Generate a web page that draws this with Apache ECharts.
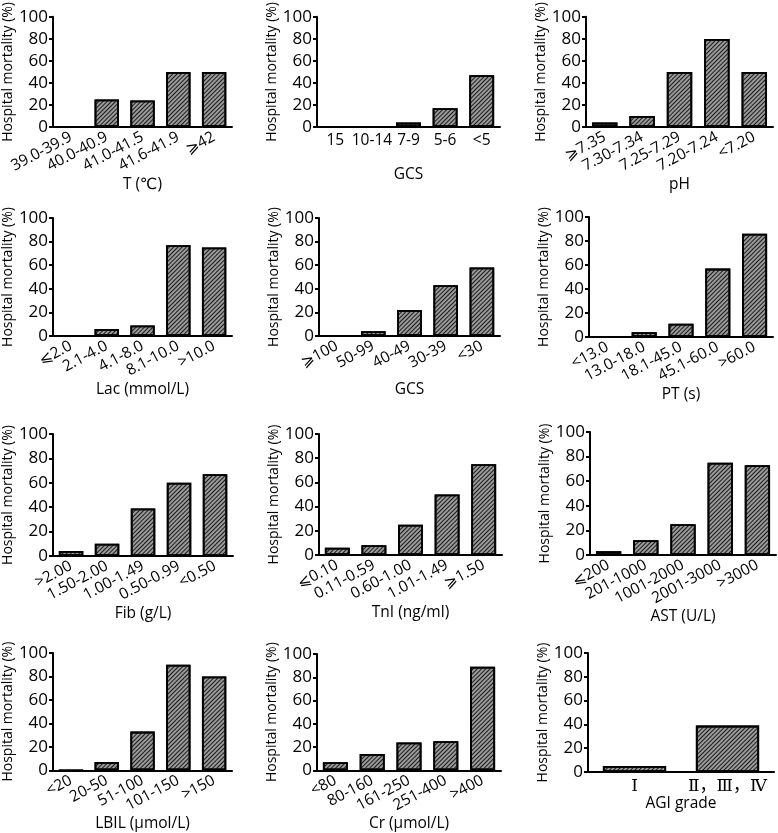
<!DOCTYPE html>
<html><head><meta charset="utf-8">
<script src="https://cdn.jsdelivr.net/npm/echarts@6/dist/echarts.min.js"></script>
<style>html,body{margin:0;padding:0;background:#fff}#c{width:778px;height:833px}</style>
</head><body><div id="c"></div><script>
// ---- data ----
const yTicks = [0, 20, 40, 60, 80, 100];
const yTitle = 'Hospital mortality (%)';

const tCats = ['39.0-39.9', '40.0-40.9', '41.0-41.5', '41.6-41.9', '⩾42'];
const tVals = [0, 25, 24, 50, 50];
const gcsCats = ['15', '10-14', '7-9', '5-6', '<5'];
const gcsVals = [0, 0, 4, 17, 47];
const phCats = ['⩾7.35', '7.30-7.34', '7.25-7.29', '7.20-7.24', '<7.20'];
const phVals = [4, 10, 50, 80, 50];
const lacCats = ['⩽2.0', '2.1-4.0', '4.1-8.0', '8.1-10.0', '>10.0'];
const lacVals = [0, 6, 9, 77, 75];
const gcs2Cats = ['⩾100', '50-99', '40-49', '30-39', '<30'];
const gcs2Vals = [0, 4, 22, 43, 58];
const ptCats = ['<13.0', '13.0-18.0', '18.1-45.0', '45.1-60.0', '>60.0'];
const ptVals = [0, 4, 11, 57, 86];
const fibCats = ['>2.00', '1.50-2.00', '1.00-1.49', '0.50-0.99', '<0.50'];
const fibVals = [4, 10, 39, 60, 67];
const tniCats = ['⩽0.10', '0.11-0.59', '0.60-1.00', '1.01-1.49', '⩾1.50'];
const tniVals = [6, 8, 25, 50, 75];
const astCats = ['⩽200', '201-1000', '1001-2000', '2001-3000', '>3000'];
const astVals = [3, 12, 25, 75, 73];
const lbilCats = ['<20', '20-50', '51-100', '101-150', '>150'];
const lbilVals = [0, 7, 33, 90, 80];
const crCats = ['<80', '80-160', '161-250', '251-400', '>400'];
const crVals = [7, 14, 24, 25, 89];
const agiCats = ['Ⅰ', 'Ⅱ，Ⅲ，Ⅳ'];
const agiVals = [5, 39];

const panels = [
  { title: 'T (℃)', cats: tCats, vals: tVals },
  { title: 'GCS', cats: gcsCats, vals: gcsVals },
  { title: 'pH', cats: phCats, vals: phVals },
  { title: 'Lac (mmol/L)', cats: lacCats, vals: lacVals },
  { title: 'GCS', cats: gcs2Cats, vals: gcs2Vals },
  { title: 'PT (s)', cats: ptCats, vals: ptVals },
  { title: 'Fib (g/L)', cats: fibCats, vals: fibVals },
  { title: 'TnI (ng/ml)', cats: tniCats, vals: tniVals },
  { title: 'AST (U/L)', cats: astCats, vals: astVals },
  { title: 'LBIL (μmol/L)', cats: lbilCats, vals: lbilVals },
  { title: 'Cr (μmol/L)', cats: crCats, vals: crVals },
  { title: 'AGI grade', cats: agiCats, vals: agiVals }
];

// ---- layout (px): left, top, width, height, label rotate, x-name gap, y-name gap ----
const layout = [
  [48, 9, 184, 118, 28, 47, 33],
  [317, 9, 183, 118, 0, 40, 32],
  [586, 9, 187, 118, 28, 47, 28],
  [49, 218, 183, 118, 28, 46, 34],
  [319, 218, 181, 118, 28, 46, 32],
  [589, 217, 184, 120, 28, 42, 29],
  [47, 434, 186, 122, 28, 49, 32],
  [319, 434, 183, 121, 28, 49, 33],
  [590, 432, 186, 123, 28, 49, 32],
  [49, 653, 183, 119, 28, 44, 34],
  [317, 654, 184, 118, 28, 44, 32],
  [588, 653, 186, 119, 0, 24, 30]
];

const FONT = "'Open Sans', 'DejaVu Sans', sans-serif";
const grid = [], xAxis = [], yAxis = [], series = [];
panels.forEach((p, i) => {
  const L = layout[i];
  grid.push({ left: L[0], top: L[1], width: L[2], height: L[3], containLabel: false });
  const isAgi = i === 11;
  xAxis.push({
    type: 'category', gridIndex: i, data: p.cats,
    name: p.title, nameLocation: 'middle', nameGap: L[5],
    nameTextStyle: { fontSize: 15.5, color: '#000', fontFamily: FONT },
    axisLine: { lineStyle: { color: '#000', width: 2 } },
    axisTick: { show: false },
    axisLabel: {
      rotate: L[4], margin: L[4] ? 9 : 6, interval: 0, color: '#000',
      fontSize: isAgi ? 17 : 15.5,
      fontFamily: isAgi ? "'DejaVu Serif', 'Noto Sans CJK SC', serif" : FONT
    }
  });
  yAxis.push({
    type: 'value', gridIndex: i, min: yTicks[0], max: yTicks[yTicks.length - 1],
    interval: yTicks[1] - yTicks[0],
    name: yTitle, nameLocation: 'middle', nameGap: L[6],
    nameTextStyle: { fontSize: 14, color: '#000', fontFamily: FONT },
    axisLine: { show: true, lineStyle: { color: '#000', width: 2 } },
    axisTick: { show: true, length: 4, lineStyle: { color: '#000', width: 2 } },
    axisLabel: { margin: 5, fontSize: 17, color: '#000', fontFamily: FONT },
    splitLine: { show: false }
  });
  series.push({
    type: 'bar', xAxisIndex: i, yAxisIndex: i, data: p.vals,
    barCategoryGap: '32%',
    itemStyle: {
      color: '#9a9a9a', borderColor: '#000', borderWidth: 1.8,
      decal: { symbol: 'rect', symbolSize: 1, dashArrayX: [1, 0], dashArrayY: [1, 2], rotation: -Math.PI / 4, color: '#1a1a1a' }
    },
    animation: false
  });
});

const chart = echarts.init(document.getElementById('c'), null, { renderer: 'canvas' });
chart.setOption({
  backgroundColor: '#fff',
  animation: false,
  aria: { enabled: true, decal: { show: true } },
  textStyle: { fontFamily: FONT },
  grid, xAxis, yAxis, series
});
</script></body></html>
